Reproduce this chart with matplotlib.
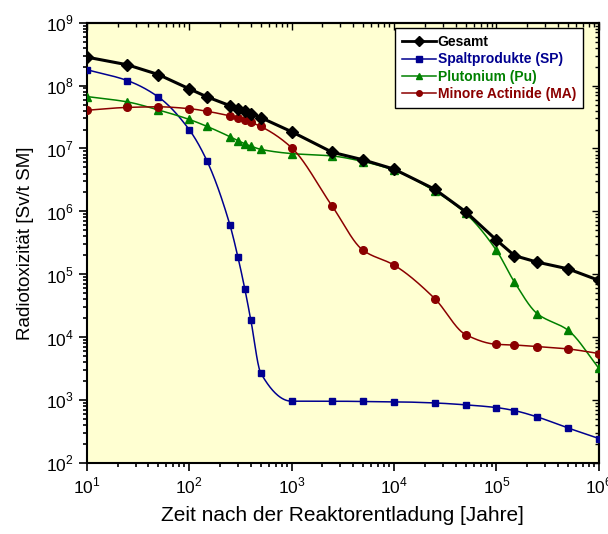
import numpy as np
import matplotlib
matplotlib.use("Agg")
import matplotlib.pyplot as plt
from matplotlib.ticker import LogLocator, NullFormatter, FuncFormatter

plt.rcParams['font.family'] = ['Liberation Sans', 'DejaVu Sans']
plt.rcParams['mathtext.fontset'] = 'custom'
plt.rcParams['mathtext.rm'] = 'Liberation Sans'

# ---- data ----
years = [10, 25, 50, 100, 150, 250, 300, 350, 400, 500, 1000, 2500, 5000,
         10000, 25000, 50000, 100000, 150000, 250000, 500000, 1000000]

gesamt = [2.84e8, 2.14e8, 1.5e8, 8.9e7, 6.6e7, 4.8e7, 4.3e7, 3.9e7, 3.6e7, 3.1e7,
          1.85e7, 8.7e6, 6.6e6, 4.7e6, 2.25e6, 9.9e5, 3.5e5, 1.98e5, 1.56e5, 1.22e5, 8.0e4]
spalt = [1.79e8, 1.2e8, 6.6e7, 2.0e7, 6.25e6, 6.1e5, 1.85e5, 5.8e4, 1.88e4, 2.7e3,
         960, 960, 950, 940, 900, 840, 760, 680, 540, 360, 245]
pluto = [6.7e7, 5.5e7, 4.1e7, 2.9e7, 2.24e7, 1.54e7, 1.33e7, 1.19e7, 1.09e7, 9.7e6,
         8.3e6, 7.6e6, 6.2e6, 4.5e6, 2.1e6, 9.3e5, 2.4e5, 7.5e4, 2.37e4, 1.29e4, 3.2e3]
minore = [4.05e7, 4.5e7, 4.6e7, 4.3e7, 3.9e7, 3.3e7, 3.07e7, 2.8e7, 2.6e7, 2.24e7,
          1.03e7, 1.2e6, 2.4e5, 1.4e5, 4.1e4, 1.1e4, 7.7e3, 7.5e3, 7.1e3, 6.5e3, 5.5e3]

labels = ['Gesamt', 'Spaltprodukte (SP)', 'Plutonium (Pu)', 'Minore Actinide (MA)']
colors = ['black', '#000090', '#008000', '#8B0000']


def pchip(x, y, xn):
    x = np.asarray(x, float); y = np.asarray(y, float)
    h = np.diff(x); d = np.diff(y) / h
    n = len(x); m = np.zeros(n)
    for k in range(1, n - 1):
        if d[k - 1] * d[k] > 0:
            w1 = 2 * h[k] + h[k - 1]; w2 = h[k] + 2 * h[k - 1]
            m[k] = (w1 + w2) / (w1 / d[k - 1] + w2 / d[k])
    m[0] = d[0]; m[-1] = d[-1]
    idx = np.clip(np.searchsorted(x, xn) - 1, 0, n - 2)
    t = (xn - x[idx]) / h[idx]
    h00 = 2 * t**3 - 3 * t**2 + 1; h10 = t**3 - 2 * t**2 + t
    h01 = -2 * t**3 + 3 * t**2; h11 = t**3 - t**2
    return h00 * y[idx] + h10 * h[idx] * m[idx] + h01 * y[idx + 1] + h11 * h[idx] * m[idx + 1]


fig = plt.figure(figsize=(6.08, 5.34), dpi=100)
ax = fig.add_axes([0.1426, 0.133, 0.985 - 0.1426, 0.9575 - 0.133])
ax.set_facecolor('#FFFFD2')

lx = np.log10(years)
xs = np.linspace(lx[0], lx[-1], 800)

# Gesamt: straight segments
ax.plot(years, gesamt, color='black', lw=2.2, marker='D', ms=6.5, zorder=5)

handles = [plt.Line2D([], [], color='black', lw=2, marker='D', ms=5)]
for vals, col, mk, ms in [(spalt, colors[1], 's', 4.8),
                          (pluto, colors[2], '^', 6),
                          (minore, colors[3], 'o', 5.5)]:
    ys = pchip(lx, np.log10(vals), xs)
    ax.plot(10**xs, 10**ys, color=col, lw=1.1, zorder=3)
    ax.plot(years, vals, ls='none', marker=mk, ms=ms, color=col, zorder=4)
    handles.append(plt.Line2D([], [], color=col, lw=1.1, marker=mk, ms=4))

ax.set_xscale('log'); ax.set_yscale('log')
ax.set_xlim(10, 1e6); ax.set_ylim(1e2, 1e9)

fmt = FuncFormatter(lambda v, p: r'$10^{%d}$' % round(np.log10(v)))
ax.xaxis.set_major_locator(LogLocator(base=10, numticks=10))
ax.yaxis.set_major_locator(LogLocator(base=10, numticks=10))
ax.xaxis.set_major_formatter(fmt); ax.yaxis.set_major_formatter(fmt)
ax.xaxis.set_minor_locator(LogLocator(base=10, subs=np.arange(2, 10), numticks=20))
ax.yaxis.set_minor_locator(LogLocator(base=10, subs=np.arange(2, 10), numticks=20))
ax.xaxis.set_minor_formatter(NullFormatter()); ax.yaxis.set_minor_formatter(NullFormatter())

ax.tick_params(which='both', direction='out', top=False, right=False, labelsize=12.5, width=1.2)
ax.tick_params(which='major', length=6)
ax.tick_params(which='minor', length=3)
ax2 = ax.secondary_xaxis('top'); ay2 = ax.secondary_yaxis('right')
for a in (ax2, ay2):
    a.tick_params(which='both', direction='in', width=1)
    a.tick_params(which='major', length=5); a.tick_params(which='minor', length=3)
ax2.xaxis.set_major_formatter(NullFormatter()); ay2.yaxis.set_major_formatter(NullFormatter())
ax2.xaxis.set_minor_locator(LogLocator(base=10, subs=np.arange(2, 10), numticks=20))
ay2.yaxis.set_minor_locator(LogLocator(base=10, subs=np.arange(2, 10), numticks=20))
for s in ax.spines.values():
    s.set_linewidth(1.5)
for a in (ax2, ay2):
    for s in a.spines.values():
        s.set_linewidth(1.5)

ax.set_xlabel('Zeit nach der Reaktorentladung [Jahre]', fontsize=15, labelpad=7)
ax.set_ylabel('Radiotoxizität [Sv/t SM]', fontsize=13.5, labelpad=8)

leg = ax.legend(handles, labels, loc='upper right', bbox_to_anchor=(0.969, 0.988),
                borderaxespad=0,
                frameon=True, fancybox=False, edgecolor='black', facecolor='white',
                framealpha=1, handlelength=2.4, handletextpad=0.15,
                labelspacing=0.25, borderpad=0.5, prop={'weight': 'bold', 'size': 10})
leg.get_frame().set_linewidth(1)
for t, c in zip(leg.get_texts(), colors):
    t.set_color(c)

fig.savefig('out.png', dpi=100)
